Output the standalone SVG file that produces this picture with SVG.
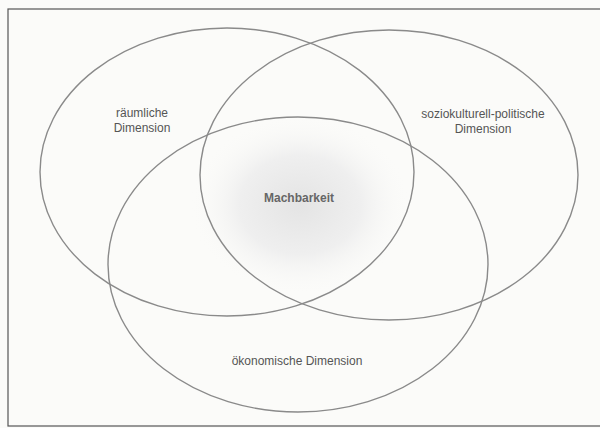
<svg xmlns="http://www.w3.org/2000/svg" width="600" height="428" viewBox="0 0 600 428">
<defs>
<radialGradient id="glow" cx="0.5" cy="0.5" r="0.5">
<stop offset="0" stop-color="#e4e4e4"/>
<stop offset="0.55" stop-color="#efefef"/>
<stop offset="1" stop-color="#fbfbf9" stop-opacity="0"/>
</radialGradient>
</defs>
<style>
.ring{fill:none;stroke:#8a8a8a;stroke-width:1.4}
.lbl{font-family:"Liberation Sans",Arial,sans-serif;font-size:12px;fill:#555;text-anchor:middle}
.core{font-family:"Liberation Sans",Arial,sans-serif;font-size:12px;font-weight:bold;fill:#666;text-anchor:middle}
</style>
<rect x="0" y="0" width="600" height="428" fill="#fbfbf9"/>
<rect x="8" y="9" width="600" height="417" fill="none" stroke="#555" stroke-width="1.2"/>
<ellipse cx="300" cy="205" rx="110" ry="90" fill="url(#glow)"/>
<g id="raeumlich">
<ellipse class="ring" cx="227" cy="172" rx="187" ry="144"/>
<text class="lbl" x="142" y="117">räumliche</text>
<text class="lbl" x="142" y="132">Dimension</text>
</g>
<g id="soziokulturell">
<ellipse class="ring" cx="389" cy="175" rx="189" ry="145"/>
<text class="lbl" x="483" y="118">soziokulturell-politische</text>
<text class="lbl" x="483" y="133">Dimension</text>
</g>
<g id="oekonomisch">
<ellipse class="ring" cx="298" cy="264.5" rx="190" ry="147.5"/>
<text class="lbl" x="297" y="365">ökonomische Dimension</text>
</g>
<g id="machbarkeit">
<text class="core" x="299" y="202">Machbarkeit</text>
</g>
<g id="connectors"></g>
</svg>
